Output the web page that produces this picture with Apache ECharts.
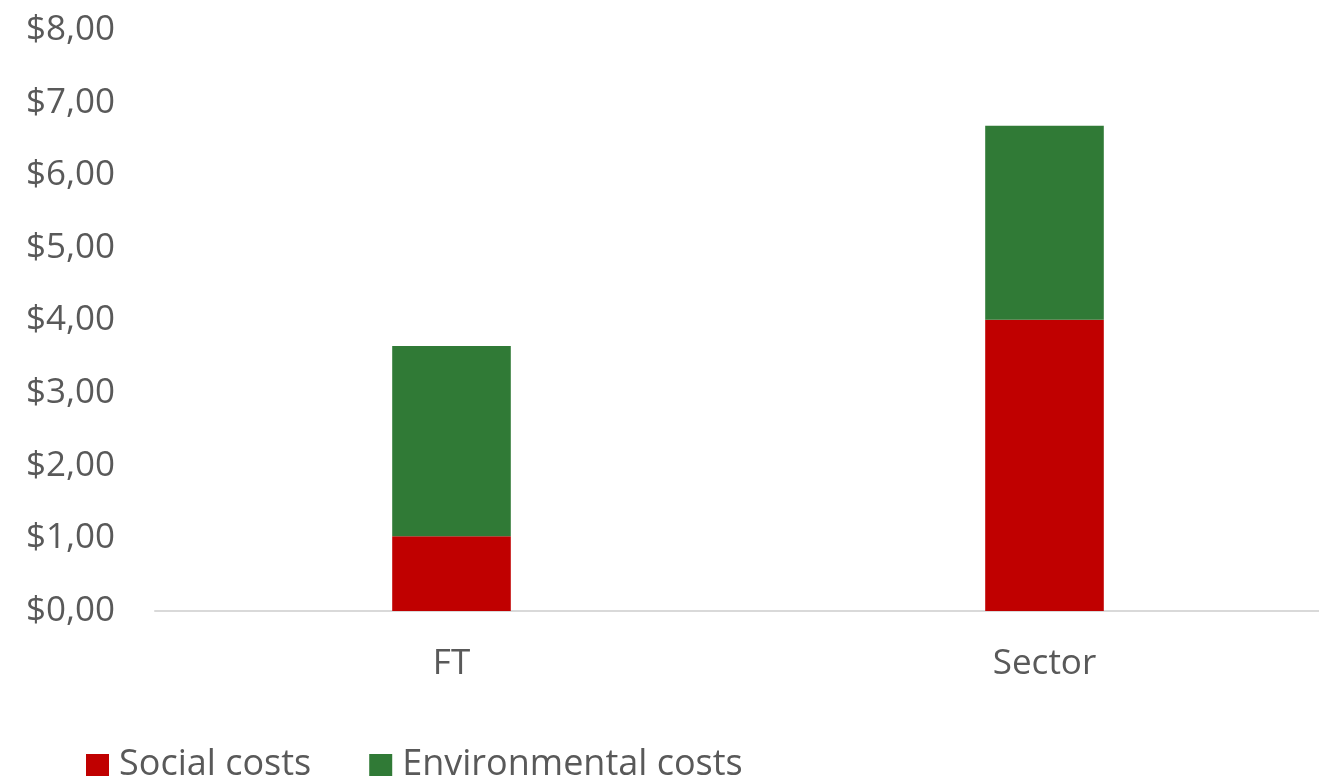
<!DOCTYPE html>
<html>
<head>
<meta charset="utf-8">
<script src="https://cdn.jsdelivr.net/npm/echarts@6/dist/echarts.min.js"></script>
<style>html,body{margin:0;padding:0;background:#fff;overflow:hidden;width:1319px;height:781px;}#c{width:1341px;height:781px;}</style>
</head>
<body>
<div id="c"></div>
<script>
const categories = ['FT', 'Sector'];
const socialCosts = [1.03, 4.01];
const environmentalCosts = [2.62, 2.67];
const seriesNames = ['Social costs', 'Environmental costs'];

const chart = echarts.init(document.getElementById('c'));
const font = '"Open Sans", "Noto Sans", sans-serif';
chart.setOption({
  animation: false,
  textStyle: { fontFamily: font },
  grid: { left: 155, top: 30, right: 0, bottom: 170 },
  legend: {
    left: 81, top: 742,
    itemWidth: 23, itemHeight: 22, itemGap: 58,
    icon: 'rect',
    textStyle: { fontFamily: font, fontSize: 36, color: '#595959', padding: [0, 0, 0, 5] },
    data: seriesNames
  },
  xAxis: {
    type: 'category', data: categories,
    axisLine: { lineStyle: { color: '#d9d9d9', width: 2 } },
    axisTick: { show: false },
    axisLabel: { color: '#595959', fontSize: 35, margin: 36, fontFamily: font }
  },
  yAxis: {
    type: 'value', min: 0, max: 8, interval: 1,
    splitLine: { show: false },
    axisLine: { show: false },
    axisTick: { show: false },
    axisLabel: {
      color: '#595959', fontSize: 35, margin: 40, fontFamily: font,
      formatter: v => '$' + v.toFixed(2).replace('.', ',')
    }
  },
  series: [
    { name: seriesNames[0], type: 'bar', stack: 't', data: socialCosts, barWidth: '20%', itemStyle: { color: '#C00000' } },
    { name: seriesNames[1], type: 'bar', stack: 't', data: environmentalCosts, barWidth: '20%', itemStyle: { color: '#307A36' } }
  ]
});
</script>
</body>
</html>
